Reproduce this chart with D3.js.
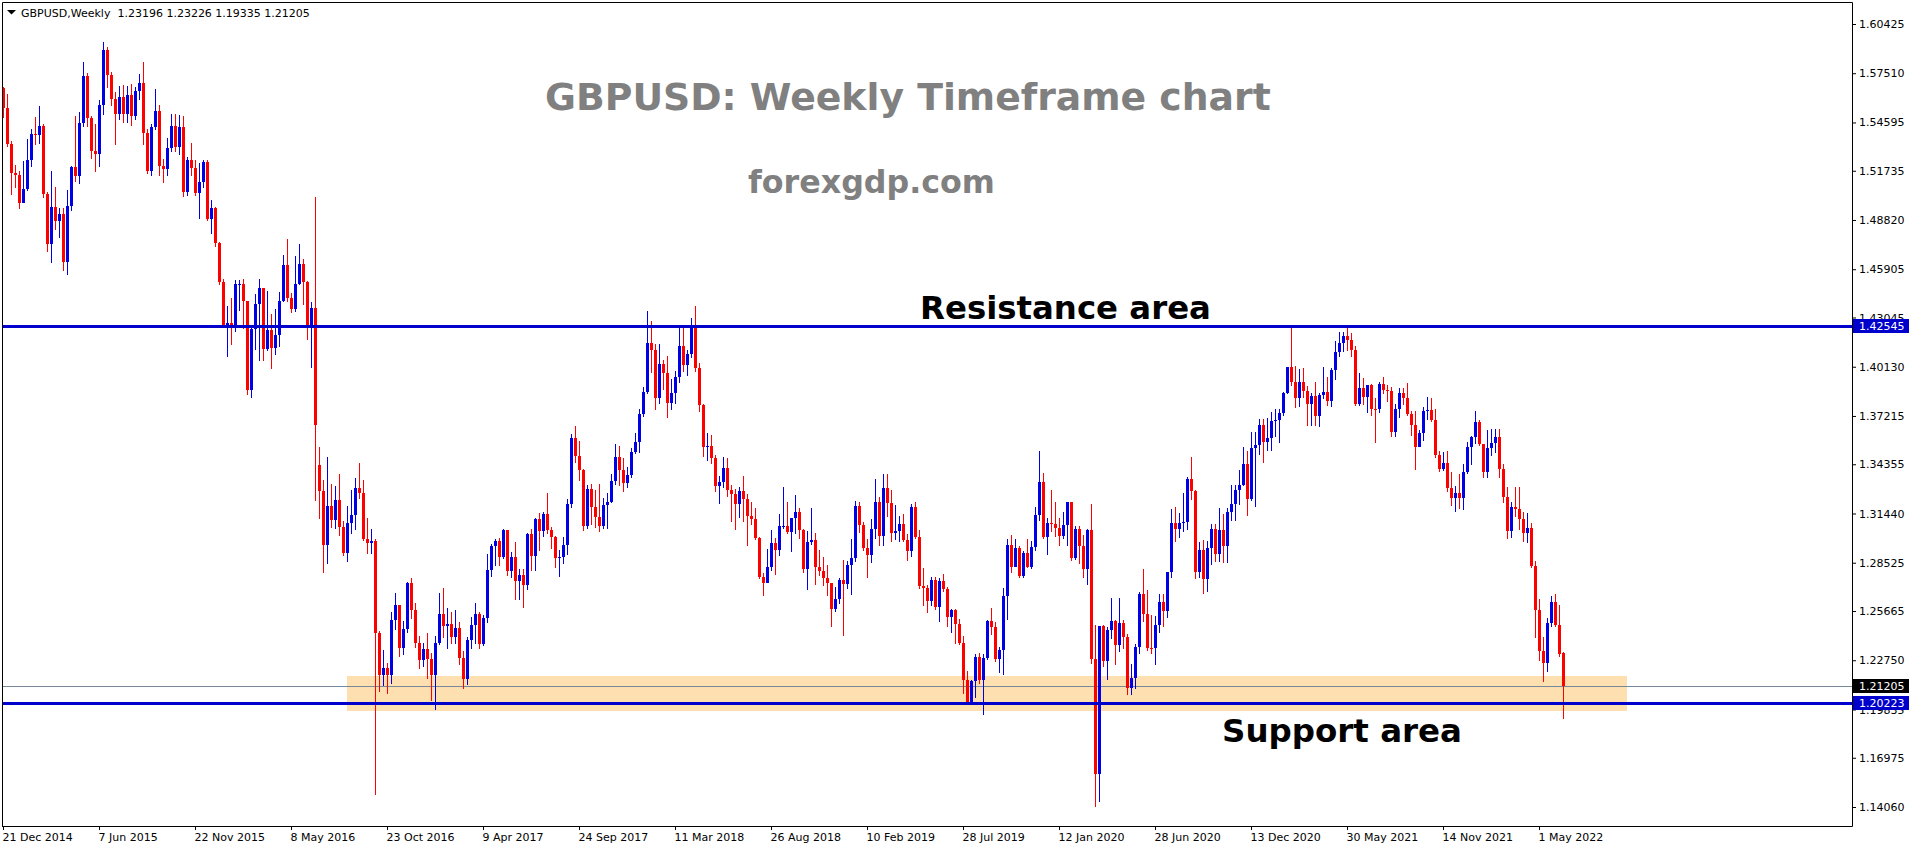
<!DOCTYPE html>
<html>
<head>
<meta charset="utf-8">
<script src="https://cdn.jsdelivr.net/npm/d3@7/dist/d3.min.js"></script>
<style>
  body { margin: 0; background: #fff; }
  svg { display: block; }
  text { font-family: "DejaVu Sans", sans-serif; }
</style>
</head>
<body>
<svg id="chart" width="1916" height="850"></svg>
<script>
/*global d3*/

// weekly bars, one per week starting Sunday 21 Dec 2014
// each entry: [high, low, close, open?] in pips above 1.0000, open defaults to previous close
var firstWeek = Date.UTC(2014, 11, 21);

var bars2015 = [
  [5670,5490,5545,5665],[5630,5320,5330],[5350,5035,5160],[5210,5080,5150],[5170,4955,4985],[5230,4990,5065],[5360,5060,5240],[5420,5200,5390],[5490,5330,5385],[5555,5340,5440],
  [5450,5020,5035],[5050,4700,4740],[5170,4635,4960],[5080,4830,4875],[4950,4780,4920],[4950,4585,4635],[5060,4565,4965],[5200,4940,5195],[5500,5110,5140],[5520,5100,5455],
  [5815,5440,5735],[5750,5440,5485],[5500,5250,5290],[5450,5170,5275],[5595,5200,5560],[5935,5510,5890],[5905,5670,5740],[5760,5560,5600],[5640,5330,5510],[5675,5480,5610],
  [5680,5460,5510],[5675,5465,5620],[5690,5445,5495],[5670,5480,5645],[5745,5600,5695],[5820,5330,5400],[5420,5160,5170],[5450,5150,5430],[5660,5420,5525],[5560,5150,5200],
  [5245,5105,5185],[5370,5150,5310],[5510,5290,5440],[5510,5290,5315],[5505,5270,5430],[5500,5025,5045],[5255,5030,5240],[5335,5150,5190],[5240,5030,5040],[5220,4895,5105],
  [5240,5080,5225],[5240,4880,4890],[5000,4805,4950]
];
var bars2016 = [
  [4960,4730,4745],[4750,4505,4515],[4530,4255,4260],[4370,4075,4270],[4420,4150,4245],[4525,4225,4500],[4527,4350,4505],[4535,4240,4405],[4315,3850,3875],[4250,3835,4235],
  [4445,4120,4385],[4530,4055,4478],[4475,4055,4120],[4460,4115,4230],[4325,4005,4125],[4355,4090,4200],[4455,4135,4405],[4675,4400,4615],[4770,4405,4420],[4450,4340,4355],
  [4670,4345,4500],[4740,4500,4620],[4650,4385,4515],[4520,4180,4260],[4395,4010,4360],[5020,3225,3670],[3540,3120,3275,3430],[3340,2800,2955],[3480,2850,3190],[3320,3065,3105],
  [3305,3060,3225],[3375,3015,3065],[3100,2900,2910],[3190,2865,3085],[3285,3030,3135],[3355,3055,3295],[3445,3235,3265],[3345,2985,2990],[3120,2910,2970],[3055,2910,2980],
  [2990,1485,2435],[2450,2090,2185],[2335,2130,2230],[2260,2080,2185],[2560,2140,2515],[2675,2460,2600],[2600,2300,2345],[2510,2310,2460],[2740,2440,2735],[2760,2525,2570],
  [2615,2355,2375],[2420,2230,2275]
];
var bars2017 = [
  [2375,2240,2340],[2435,2170,2280],[2320,2040,2185],[2420,1985,2375],[2675,2370,2550],[2705,2410,2480],[2585,2345,2490],[2560,2380,2415],[2570,2380,2465],[2500,2250,2290],
  [2330,2110,2165],[2410,2135,2395],[2530,2350,2485],[2615,2380,2550],[2560,2345,2370],[2545,2365,2525],[2905,2500,2810],[2965,2775,2950],[2990,2840,2980],[3000,2840,2885],
  [3050,2880,3045],[3045,2780,2805],[2915,2770,2885],[2975,2635,2745],[2815,2640,2780],[2815,2590,2720],[3030,2695,3025],[3055,2810,2890],[3120,2810,3110],[3145,2930,3040],
  [3155,3010,3140],[3265,3030,3045],[3065,2940,3005],[3010,2830,2880],[2930,2775,2885],[3005,2850,2955],[3230,2905,3200],[3615,3180,3590],[3660,3450,3485],[3575,3345,3400],
  [3405,3045,3070],[3315,3060,3290],[3320,3080,3185],[3285,3065,3125],[3320,3040,3070],[3235,3060,3195],[3265,3060,3215],[3375,3215,3335],[3555,3320,3480],[3545,3310,3400],
  [3475,3275,3325],[3420,3300,3370]
];
var bars2018 = [
  [3530,3360,3510],[3620,3500,3570],[3760,3510,3735],[3895,3720,3865],[4345,3860,4155],[4285,3980,4110],[4150,3765,3830],[4145,3800,4030],[4055,3880,3975],[4075,3715,3800],
  [3940,3765,3855],[3985,3800,3950],[4245,3925,4135],[4245,3990,4025],[4115,3965,4090],[4300,4070,4245],[4375,3990,4005],[4035,3750,3785],[3795,3485,3535],[3620,3460,3545],
  [3610,3445,3470],[3490,3280,3305],[3365,3205,3330],[3480,3300,3415],[3470,3250,3285],[3310,3100,3260],[3290,3050,3200],[3300,3125,3280],[3365,3100,3230],[3260,2955,3130],
  [3215,3080,3110],[3175,2995,3000],[3005,2760,2765],[2790,2660,2735],[2935,2740,2830],[3045,2810,2970],[3000,2785,2925],[3140,2900,3070],[3300,3060,3070],[3215,3030,3035],
  [3120,2920,3120],[3255,3030,3150],[3175,3000,3045],[3050,2800,2815],[3040,2695,2975],[3175,2965,2985],[3030,2725,2830],[2930,2780,2805],[2885,2720,2760],[2840,2660,2735],
  [2710,2475,2580],[2710,2565,2640]
];
var bars2019 = [
  [2760,2615,2750],[2870,2425,2725],[2865,2700,2840],[2995,2670,2880],[3220,2865,3190],[3215,3035,3075],[3095,2925,2940],[2995,2770,2900],[3110,2855,3055],[3350,3000,3215],
  [3240,2960,3010],[3380,2960,3295],[3380,3130,3205],[3285,2980,3030],[3195,2990,3040],[3130,2980,3080],[3140,2980,2985],[3020,2870,2920],[3200,2895,3185],[3210,3000,3005],
  [3045,2700,2715],[2820,2605,2705],[2720,2560,2625],[2765,2605,2750],[2770,2580,2590],[2760,2505,2745],[2785,2685,2695],[2710,2480,2530],[2580,2440,2575],[2580,2380,2490],
  [2520,2370,2380],[2420,2080,2160],[2210,2015,2030],[2160,2030,2150],[2310,2060,2295],[2315,2140,2160],[2310,1955,2290],[2515,2280,2505],[2585,2430,2470],[2500,2270,2285],
  [2355,2205,2335],[2700,2195,2655],[2990,2520,2955],[3015,2800,2830],[2990,2840,2940],[2950,2765,2775],[2920,2770,2910],[2990,2825,2830],[2980,2820,2945],[3180,2925,3135],
  [3515,3105,3330],[3385,3000,3005]
];
var bars2020 = [
  [3115,2905,3090],[3285,3040,3080],[3215,3010,3060],[3120,2960,3010],[3155,3000,3075],[3210,2955,3210],[3210,2870,2880],[3070,2875,3055],[3070,2850,2950],[3015,2770,2815],
  [3050,2725,3045],[3200,2260,2285],[2485,1410,1600],[2480,1440,2475],[2485,2240,2270],[2470,2165,2455],[2645,2405,2510],[2515,2250,2365],[2645,2330,2495],[2515,2350,2410],
  [2430,2075,2110],[2250,2075,2170],[2370,2110,2355],[2680,2320,2670],[2815,2510,2550],[2690,2335,2350],[2545,2320,2345],[2535,2250,2485],[2670,2440,2620],[2670,2480,2565],
  [2800,2530,2800],[3170,2770,3090],[3185,2980,3055],[3145,3005,3090],[3265,3040,3095],[3360,3050,3350],[3480,3230,3280],[3285,2760,2795],[2975,2765,2930],[2985,2675,2755],
  [2980,2685,2940],[3080,2845,3055],[3080,2865,2905],[3175,2865,3045],[3140,2855,2950],[3175,2855,3155],[3315,3105,3200],[3310,3105,3285],[3400,3200,3315],[3540,3315,3440],
  [3515,3135,3230],[3625,3225,3530]
];
var bars2021 = [
  [3625,3190,3550],[3705,3495,3670],[3705,3450,3565],[3710,3520,3590],[3745,3520,3690],[3760,3605,3700],[3760,3565,3740],[3865,3730,3855],[4010,3855,4010],[4240,3905,3925],
  [4015,3775,3830],[4000,3780,3925],[4005,3835,3870],[3900,3670,3795],[3860,3670,3840],[3920,3670,3720],[3860,3665,3845],[4010,3825,3865],[3955,3785,3810],[4005,3780,3995],
  [4165,3940,4100],[4220,4075,4155],[4220,4105,4195],[4250,4110,4170],[4215,4075,4115],[4135,3785,3795],[3975,3785,3885],[3945,3790,3835],[3905,3745,3905],[3910,3730,3765],
  [3830,3570,3760],[3925,3745,3910],[3955,3860,3875],[3905,3810,3870],[3895,3600,3625],[3790,3605,3760],[3890,3715,3860],[3890,3795,3830],[3915,3730,3735],[3750,3610,3670],
  [3750,3410,3540],[3640,3545,3620],[3775,3580,3750],[3835,3705,3755],[3825,3690,3695],[3760,3480,3490],[3515,3395,3405],[3510,3400,3445],[3515,3280,3295],[3390,3195,3235],
  [3305,3160,3265],[3375,3175,3235]
];
var bars2022 = [
  [3440,3170,3390],[3570,3385,3540],[3600,3440,3595],[3750,3560,3685],[3700,3550,3555],[3550,3360,3390],[3640,3360,3530],[3645,3490,3560],[3645,3510,3595],[3645,3360,3410],
  [3440,3210,3240],[3300,3000,3040],[3215,3005,3180],[3300,3130,3170],[3300,3050,3110],[3150,2980,3030],[3145,2975,3060],[3090,2830,2835],[2865,2410,2575],[2640,2275,2330],
  [2410,2155,2260],[2525,2210,2495],[2655,2475,2620],[2665,2480,2485],[2600,2300,2310],[2322.6,1933.5,2120.5,2319.6]
];

var priceTicks = [1.60425, 1.57510, 1.54595, 1.51735, 1.48820, 1.45905, 1.43045, 1.40130, 1.37215,
  1.34355, 1.31440, 1.28525, 1.25665, 1.22750, 1.19835, 1.16975, 1.14060];
var resistanceLevel = 1.42545;
var supportLevel = 1.20223;
var zone = {from: Date.UTC(2016, 7, 14), to: Date.UTC(2022, 9, 2), top: 1.2183, bottom: 1.1976};

var symbolName = "GBPUSD,Weekly";
var titleText = "GBPUSD: Weekly Timeframe chart";
var siteText = "forexgdp.com";

var WEEK = 7 * 864e5;

function weekIndex(t) {
  "use strict";
  return Math.round((t - firstWeek) / WEEK);
}

var bars = [];
[bars2015, bars2016, bars2017, bars2018, bars2019, bars2020, bars2021, bars2022].forEach(function (year) {
  "use strict";
  year.forEach(function (b) {
    var prev = bars.length ? bars[bars.length - 1].c : b[2];
    bars.push({
      i: bars.length,
      h: 1 + b[0] / 10000,
      l: 1 + b[1] / 10000,
      c: 1 + b[2] / 10000,
      o: b.length > 3 ? 1 + b[3] / 10000 : prev
    });
  });
});

var svg = d3.select("#chart");
var plotLeft = 2, plotTop = 2, plotRight = 1852, plotBottom = 826;

var x = d3.scaleLinear().domain([0, 390]).range([3, 1563]);
var y = d3.scaleLinear().domain([1.14060, 1.60425]).range([807, 24]);

var bullColor = "#0000e6", bearColor = "#ff0000", lineColor = "#0000cd";

// support zone
svg.append("rect")
  .attr("x", x(weekIndex(zone.from)))
  .attr("width", x(weekIndex(zone.to)) - x(weekIndex(zone.from)))
  .attr("y", Math.round(y(zone.top)))
  .attr("height", Math.round(y(zone.bottom)) - Math.round(y(zone.top)))
  .attr("fill", "#fddfb0");

var last = bars[bars.length - 1];

// bid line
svg.append("line")
  .attr("x1", plotLeft).attr("x2", plotRight)
  .attr("y1", Math.round(y(last.c)) + 0.5).attr("y2", Math.round(y(last.c)) + 0.5)
  .attr("stroke", "#778899").attr("stroke-width", 1);

var candles = svg.append("g").attr("shape-rendering", "crispEdges");

candles.selectAll("rect.wick")
  .data(bars)
  .enter().append("rect")
  .attr("class", "wick")
  .attr("x", function (d) { return x(d.i); })
  .attr("width", 1)
  .attr("y", function (d) { return Math.round(y(d.h)); })
  .attr("height", function (d) { return Math.max(1, Math.round(y(d.l)) - Math.round(y(d.h)) + 1); })
  .attr("fill", function (d) { return d.c < d.o ? bearColor : bullColor; });

candles.selectAll("rect.body")
  .data(bars)
  .enter().append("rect")
  .attr("class", "body")
  .attr("x", function (d) { return x(d.i) - 1; })
  .attr("width", 3)
  .attr("y", function (d) { return Math.round(y(Math.max(d.o, d.c))); })
  .attr("height", function (d) { return Math.max(1, Math.round(y(Math.min(d.o, d.c))) - Math.round(y(Math.max(d.o, d.c)))); })
  .attr("fill", function (d) { return d.c < d.o ? bearColor : bullColor; });

// horizontal levels
[resistanceLevel, supportLevel].forEach(function (lv) {
  "use strict";
  svg.append("rect")
    .attr("x", plotLeft).attr("width", plotRight - plotLeft)
    .attr("y", Math.round(y(lv)) - 1).attr("height", 3)
    .attr("fill", lineColor);
});

// frame
svg.append("path")
  .attr("d", "M" + (plotLeft + 0.5) + "," + plotBottom + "V" + (plotTop + 0.5) + "H" + (plotRight + 0.5) + "V" + (plotBottom + 0.5) + "H" + plotLeft)
  .attr("fill", "none").attr("stroke", "#000").attr("stroke-width", 1);

// price axis
var yAxis = svg.append("g")
  .attr("transform", "translate(" + plotRight + ",0)")
  .call(d3.axisRight(y).tickValues(priceTicks).tickSize(4).tickPadding(3).tickFormat(d3.format(".5f")));
yAxis.select(".domain").remove();
yAxis.selectAll("text").attr("font-size", 11).attr("font-family", "DejaVu Sans").attr("fill", "#000");

// time axis
var fmtDate = d3.utcFormat("%-d %b %Y");
var xAxis = svg.append("g")
  .attr("transform", "translate(0," + plotBottom + ")")
  .call(d3.axisBottom(x).tickValues(d3.range(0, 391, 24)).tickSize(4).tickPadding(3)
    .tickFormat(function (i) { return fmtDate(new Date(firstWeek + i * WEEK)); }));
xAxis.select(".domain").remove();
xAxis.selectAll("text").attr("text-anchor", "start").attr("dx", -1)
  .attr("font-size", 11).attr("font-family", "DejaVu Sans").attr("fill", "#000");

// price tags
function priceTag(value, bg) {
  "use strict";
  var yy = Math.round(y(value));
  svg.append("rect").attr("x", plotRight + 1).attr("y", yy - 7).attr("width", 56).attr("height", 14).attr("fill", bg);
  svg.append("text").attr("x", plotRight + 7).attr("y", yy).attr("dy", "0.36em")
    .attr("font-size", 11).attr("fill", "#fff").text(d3.format(".5f")(value));
}
priceTag(resistanceLevel, lineColor);
priceTag(last.c, "#000");
priceTag(supportLevel, lineColor);

// header
svg.append("path").attr("d", "M7,10H16L11.5,14.5Z").attr("fill", "#000");
svg.append("text")
  .attr("x", 21).attr("y", 17)
  .attr("font-size", 11)
  .attr("fill", "#000")
  .style("white-space", "pre")
  .text(symbolName + "  " + [last.o, last.h, last.l, last.c].map(d3.format(".5f")).join(" "));

// annotations, scaled to the width they take in the picture
function label(txt, left, baseline, width, color) {
  "use strict";
  var t = svg.append("text")
    .attr("x", left).attr("y", baseline)
    .attr("font-family", "Lato, 'Open Sans', sans-serif")
    .attr("font-weight", 700)
    .attr("font-size", 40)
    .attr("fill", color)
    .text(txt);
  var w = t.node().getComputedTextLength();
  t.attr("font-size", 40 * width / w);
}
label(titleText, 545, 110, 726, "#808080");
label(siteText, 748, 193, 247, "#808080");
label("Resistance area", 920, 319, 291, "#000");
label("Support area", 1222, 742, 240, "#000");
</script>
</body>
</html>
